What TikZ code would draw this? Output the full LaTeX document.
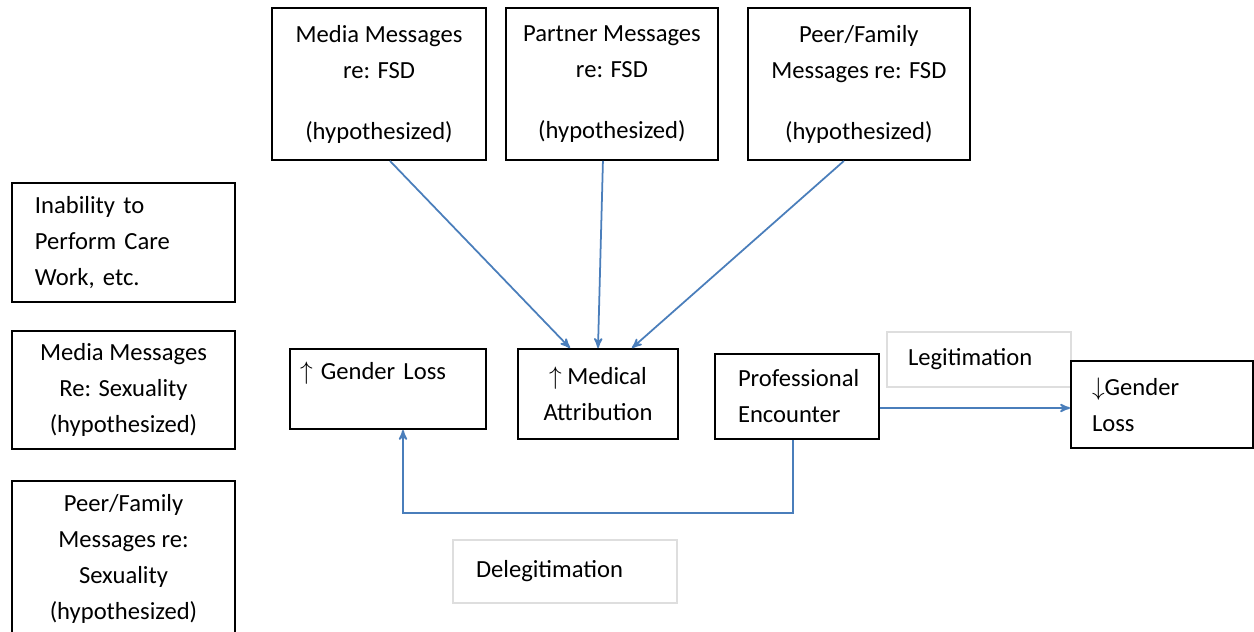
\documentclass[tikz,border=0pt]{standalone}
\usepackage{fontspec}
\setmainfont{Carlito}
\usetikzlibrary{arrows,positioning}
\definecolor{linkblue}{RGB}{74,126,187}
\tikzset{
  box/.style={draw, line width=1.1pt, inner ysep=0pt, inner xsep=0.2cm,
    font=\fontsize{14}{20.5}\selectfont, align=center},
  softbox/.style={box, draw=black!13, line width=0.7pt, align=left},
  link/.style={->, >=stealth', draw=linkblue, line width=1pt}
}

\begin{document}
\begin{tikzpicture}[x=0.2mm, y=-0.2mm]
  \useasboundingbox[fill=white] (0,0) rectangle (1254,631);
  % message sources
  \node[box, minimum width=4.28cm, minimum height=3.04cm] (mfsd) at (379,84)
    {Media Messages\\ re: FSD\\[0.5cm] (hypothesized)};
  \node[box, minimum width=4.24cm, minimum height=3.04cm, right=0.36cm of mfsd] (pfsd)
    {Partner Messages\\ re: FSD\\[0.5cm] (hypothesized)};
  \node[box, minimum width=4.44cm, minimum height=3.04cm, right=0.56cm of pfsd] (ffsd)
    {Peer/Family\\ Messages re: FSD\\[0.5cm] (hypothesized)};
  \node[box, align=left, inner xsep=0.46cm, text width=3.54cm, minimum height=2.38cm] (inab) at (123.5,242.5)
    {Inability to\\ Perform Care\\ Work, etc.};
  \node[box, minimum width=4.46cm, minimum height=2.36cm, below=0.54cm of inab] (msex)
    {Media Messages\\ Re: Sexuality\\ (hypothesized)};
  \node[box, minimum width=4.46cm, minimum height=3.12cm, below=0.6cm of msex] (fsex)
    {Peer/Family\\ Messages re:\\ Sexuality\\ (hypothesized)};
  % middle row
  \node[box, align=left, text width=3.52cm, minimum height=1.6cm] (gup) at (388,389)
    {$\uparrow$ Gender Loss\\ \mbox{}};
  \node[box, minimum width=3.2cm, minimum height=1.8cm] (med) at (598,394)
    {$\uparrow$ Medical\\ Attribution};
  \node[box, align=left, inner xsep=0.46cm, text width=2.36cm, minimum height=1.7cm] (prof) at (797,396.5)
    {Professional\\ Encounter};
  \node[softbox, inner xsep=0.42cm, text width=2.84cm, minimum height=1.1cm] (legit) at (979,359.5)
    {Legitimation};
  \node[box, align=left, inner xsep=0.42cm, text width=2.8cm, minimum height=1.74cm] (gdown) at (1162,404.5)
    {$\downarrow$Gender\\ Loss};
  \node[softbox, inner xsep=0.46cm, text width=3.56cm, minimum height=1.26cm] (deleg) at (565,571.5)
    {Delegitimation};

  \draw[link] ([xshift=0.22cm]mfsd.south) -- ([xshift=-0.56cm]med.north);
  \draw[link] ([xshift=-0.18cm]pfsd.south) -- (med.north);
  \draw[link] ([xshift=-0.3cm]ffsd.south) -- ([xshift=0.68cm]med.north);
  \coordinate (legout) at ([yshift=-0.23cm]prof.east);
  \draw[link] (legout) -- (legout -| gdown.west);
  \draw[link] ([xshift=-0.08cm]prof.south) -- ++(0,-1.46cm) -| ([xshift=0.3cm]gup.south);
\end{tikzpicture}
\end{document}
